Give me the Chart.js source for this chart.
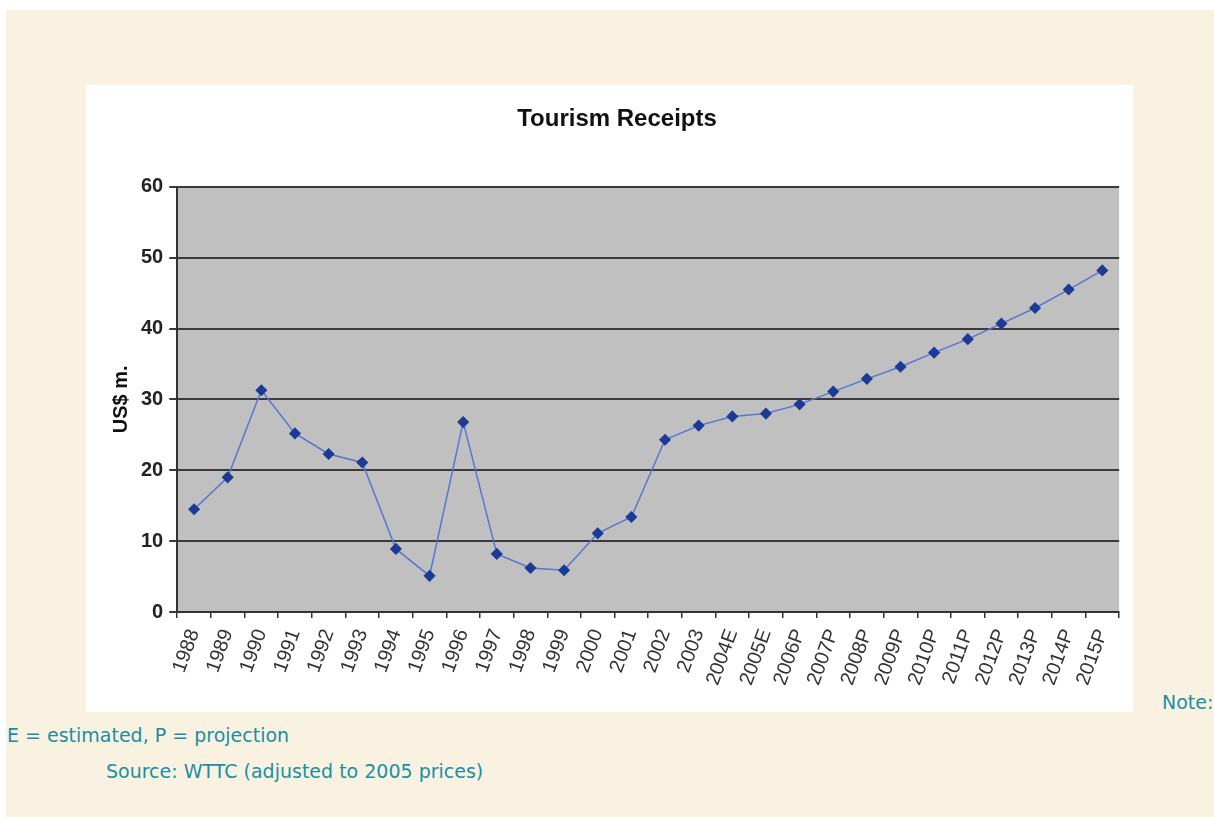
<!DOCTYPE html>
<html>
<head>
<meta charset="utf-8">
<script src="https://cdn.jsdelivr.net/npm/chart.js@4.4.0/dist/chart.umd.min.js"></script>
<style>
    body { margin: 0; background: #fff; width: 1214px; height: 817px; overflow: hidden; position: relative; }
    #frame { position: absolute; left: 6px; top: 10px; width: 1208px; height: 807px; background: #faf2e0; }
    #panel { position: absolute; left: 86px; top: 85px; width: 1047px; height: 627px; background: #fff; }
    .note { position: absolute; color: #1a8ea6; font-family: "DejaVu Sans", sans-serif; font-size: 19px; white-space: nowrap; }
</style>
</head>
<body>
<div id="frame"></div>
<div id="panel"><canvas id="receipts" width="1047" height="627"></canvas></div>
<div class="note" style="left:1162px; top:691px;">Note:</div>
<div class="note" style="left:7px; top:724px;">E = estimated, P = projection</div>
<div class="note" style="left:106px; top:760px;">Source: WTTC (adjusted to 2005 prices)</div>

<script>
// Data
const years = ['1988', '1989', '1990', '1991', '1992', '1993', '1994', '1995', '1996', '1997',
    '1998', '1999', '2000', '2001', '2002', '2003', '2004E', '2005E', '2006P', '2007P',
    '2008P', '2009P', '2010P', '2011P', '2012P', '2013P', '2014P', '2015P'];
const receipts = [14.5, 19.0, 31.3, 25.2, 22.3, 21.1, 8.9, 5.1, 26.8, 8.2,
    6.2, 5.9, 11.1, 13.4, 24.3, 26.3, 27.6, 28.0, 29.3, 31.1,
    32.9, 34.6, 36.6, 38.5, 40.7, 42.9, 45.5, 48.2];
const yTicks = [0, 10, 20, 30, 40, 50, 60];

// grey plot area behind the line
const plotBackground = {
    id: 'plotBackground',
    beforeDraw(chart) {
        const { ctx, chartArea } = chart;
        ctx.save();
        ctx.fillStyle = '#c0c0c0';
        ctx.fillRect(chartArea.left, chartArea.top, chartArea.right - chartArea.left, chartArea.bottom - chartArea.top);
        ctx.restore();
    }
};

const ctx = document.getElementById('receipts').getContext('2d');
new Chart(ctx, {
    type: 'line',
    data: {
        labels: years,
        datasets: [{
            label: 'Tourism Receipts',
            data: receipts,
            borderColor: '#5577d0',
            borderWidth: 1.5,
            pointStyle: 'rectRot',
            pointRadius: 5,
            pointBackgroundColor: '#1c3a96',
            pointBorderColor: '#1c3a96',
            tension: 0
        }]
    },
    options: {
        responsive: false,
        animation: false,
        layout: { padding: { top: 20, right: 4, left: 19, bottom: 0 } },
        plugins: {
            legend: { display: false },
            tooltip: { enabled: false },
            title: {
                display: true,
                text: 'Tourism Receipts',
                color: '#111',
                font: { family: '"Liberation Sans", Arial, sans-serif', size: 24, weight: 'bold' },
                padding: { top: 0, bottom: 53 }
            }
        },
        scales: {
            x: {
                offset: true,
                afterFit(axis) { axis.height = 100; },
                grid: { display: true, drawOnChartArea: false, offset: true, color: '#333', tickLength: 6, lineWidth: 1.5 },
                border: { color: '#333', width: 2 },
                ticks: {
                    color: '#333',
                    minRotation: 70,
                    maxRotation: 70,
                    autoSkip: false,
                    padding: 8,
                    font: { family: '"Liberation Sans", Arial, sans-serif', size: 20 }
                }
            },
            y: {
                min: 0,
                max: 60,
                afterBuildTicks(axis) { axis.ticks = yTicks.map(v => ({ value: v })); },
                grid: { color: '#3a3a3a', lineWidth: 2, tickLength: 8 },
                border: { color: '#333', width: 2 },
                ticks: {
                    color: '#222',
                    padding: 6,
                    font: { family: '"Liberation Sans", Arial, sans-serif', size: 20, weight: 'bold' }
                },
                title: {
                    display: true,
                    text: 'US$ m.',
                    color: '#111',
                    padding: { bottom: 2 },
                    font: { family: '"Liberation Sans", Arial, sans-serif', size: 20, weight: 'bold' }
                }
            }
        }
    },
    plugins: [plotBackground]
});
</script>
</body>
</html>
